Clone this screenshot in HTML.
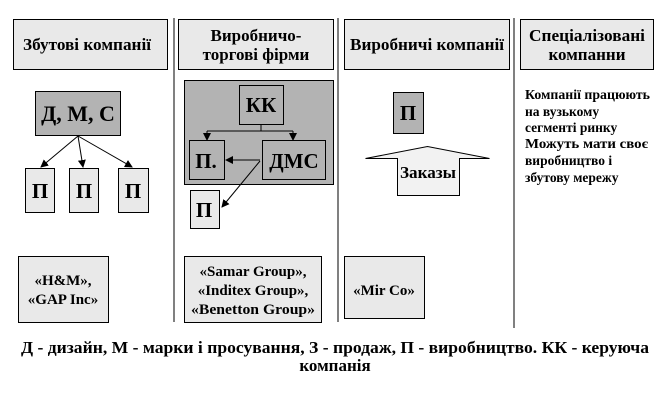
<!DOCTYPE html>
<html><head><meta charset="utf-8"><style>
body{margin:0;width:665px;height:400px;background:#fff;overflow:hidden;}
svg text{font-family:"Liberation Serif","DejaVu Serif",serif;font-weight:bold;}
</style></head><body>
<svg width="665" height="400" xmlns="http://www.w3.org/2000/svg">
<defs><marker id="a" markerWidth="8" markerHeight="8" refX="7" refY="4" orient="auto" markerUnits="userSpaceOnUse"><path d="M0,0 L8,4 L0,8 z" fill="#000"/></marker></defs>
<g stroke="#000" stroke-width="1">
<line x1="174" y1="18" x2="174" y2="322"/>
<line x1="338" y1="18" x2="338" y2="322"/>
<line x1="514" y1="18" x2="514" y2="328"/>
</g>
<g fill="#e9e9e9" stroke="#000" stroke-width="1">
<rect x="13.5" y="19.5" width="154" height="50"/>
<rect x="178.5" y="19.5" width="155" height="50"/>
<rect x="344.5" y="19.5" width="165" height="50"/>
<rect x="520.5" y="19.5" width="133" height="50"/>
</g>
<g font-size="17" text-anchor="middle">
<text x="87" y="50" textLength="128" lengthAdjust="spacingAndGlyphs">Збутові компанії</text>
<text x="256" y="41">Виробничо-</text>
<text x="256" y="60">торгові фірми</text>
<text x="427" y="50" textLength="154" lengthAdjust="spacingAndGlyphs">Виробничі компанії</text>
<text x="587" y="41" textLength="116" lengthAdjust="spacingAndGlyphs">Спеціалізовані</text>
<text x="587" y="60">компанни</text>
</g>
<rect x="35.5" y="91.5" width="85" height="44" fill="#b3b3b3" stroke="#000"/>
<text x="78" y="121" font-size="22" text-anchor="middle">Д, М, С</text>
<g fill="#e9e9e9" stroke="#000"><rect x="25.5" y="168.5" width="29" height="44"/><rect x="69.5" y="168.5" width="29" height="44"/><rect x="118.5" y="168.5" width="30" height="44"/></g>
<g font-size="21" text-anchor="middle"><text x="40" y="198">П</text><text x="84" y="198">П</text><text x="133" y="198">П</text></g>
<g stroke="#000" marker-end="url(#a)"><line x1="78" y1="136" x2="41" y2="167"/><line x1="78" y1="136" x2="83" y2="167"/><line x1="78" y1="136" x2="132" y2="167"/></g>
<rect x="184.5" y="80.5" width="149" height="104" fill="#b3b3b3" stroke="#000"/>
<rect x="239.5" y="85.5" width="44" height="39" fill="#b3b3b3" stroke="#000"/>
<text x="261" y="112" font-size="21" text-anchor="middle">КК</text>
<g stroke="#000"><line x1="261" y1="124" x2="261" y2="131"/><line x1="207" y1="131" x2="293" y2="131"/><line x1="207" y1="131" x2="207" y2="140" marker-end="url(#a)"/><line x1="293" y1="131" x2="293" y2="140" marker-end="url(#a)"/></g>
<rect x="189.5" y="140.5" width="35" height="39" fill="#b3b3b3" stroke="#000"/>
<rect x="262.5" y="140.5" width="63" height="39" fill="#b3b3b3" stroke="#000"/>
<text x="206" y="168" font-size="21" text-anchor="middle">П.</text>
<text x="294" y="168" font-size="21" text-anchor="middle">ДМС</text>
<rect x="190.5" y="190.5" width="29" height="38" fill="#e9e9e9" stroke="#000"/>
<text x="204" y="217" font-size="21" text-anchor="middle">П</text>
<g stroke="#000" marker-end="url(#a)"><line x1="260" y1="160" x2="226" y2="160"/><line x1="260" y1="161" x2="222" y2="207"/></g>
<rect x="393.5" y="92.5" width="30" height="41" fill="#b3b3b3" stroke="#000"/>
<text x="408" y="120" font-size="21" text-anchor="middle">П</text>
<path d="M365.5,158.5 L427.5,146.5 L489.5,158.5 L459.5,158.5 L459.5,195.5 L397.5,195.5 L397.5,158.5 Z" fill="#f2f2f2" stroke="#000"/>
<text x="428" y="178" font-size="17" text-anchor="middle" textLength="56" lengthAdjust="spacingAndGlyphs">Заказы</text>
<g font-size="13.5">
<text x="525" y="99" textLength="125" lengthAdjust="spacingAndGlyphs">Компанії працюють</text>
<text x="525" y="116">на вузькому</text>
<text x="525" y="132">сегменті ринку</text>
<text x="525" y="148" textLength="123" lengthAdjust="spacingAndGlyphs">Можуть мати своє</text>
<text x="525" y="165">виробництво  і</text>
<text x="525" y="182">збутову мережу</text>
</g>
<g fill="#e9e9e9" stroke="#000"><rect x="18.5" y="256.5" width="90" height="66"/><rect x="184.5" y="256.5" width="137" height="66"/><rect x="344.5" y="256.5" width="80" height="62"/></g>
<g font-size="15" text-anchor="middle">
<text x="63" y="285">«H&amp;M»,</text><text x="63" y="304">«GAP Inc»</text>
<text x="253" y="276">«Samar Group»,</text><text x="253" y="295">«Inditex Group»,</text><text x="253" y="314" textLength="124" lengthAdjust="spacingAndGlyphs">«Benetton Group»</text>
<text x="384" y="295">«Mir Co»</text>
</g>
<g font-size="17" text-anchor="middle">
<text x="335" y="353" textLength="628" lengthAdjust="spacingAndGlyphs">Д - дизайн, М - марки і просування, З - продаж, П - виробництво. КК - керуюча</text>
<text x="335" y="371">компанія</text>
</g>
</svg>
</body></html>
